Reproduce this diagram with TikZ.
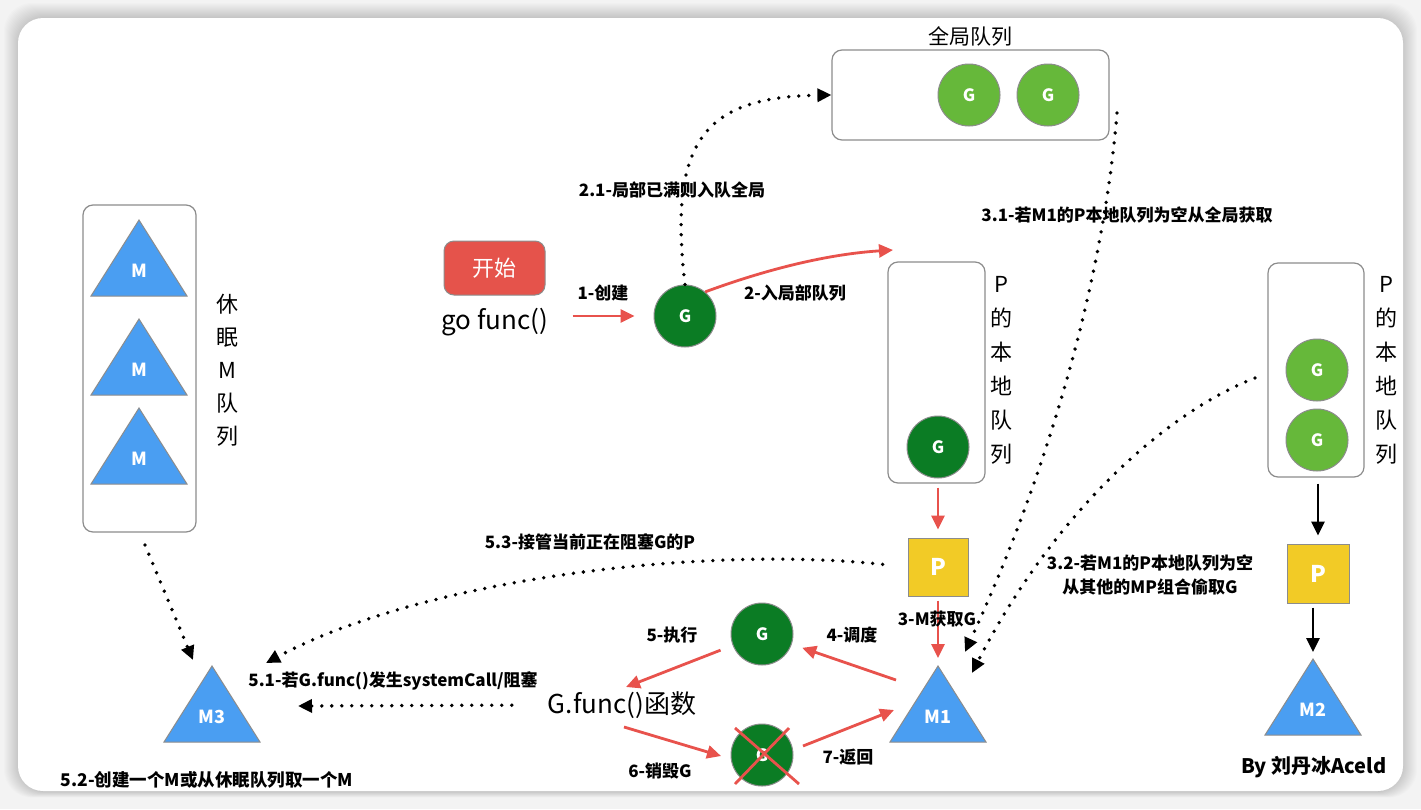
\documentclass[tikz,border=0pt]{standalone}
\usepackage{fontspec}
\setmainfont{Noto Sans CJK SC}
\usetikzlibrary{arrows.meta,shapes.geometric}
\definecolor{redc}{HTML}{E8524C}
\definecolor{startred}{HTML}{E5534B}
\definecolor{dgreen}{HTML}{0B7C24}
\definecolor{lgreen}{HTML}{66B83A}
\definecolor{pyellow}{HTML}{F2CB26}
\definecolor{mblue}{HTML}{4A9EF2}
\definecolor{bgray}{HTML}{8C8C8C}
\definecolor{pagebg}{HTML}{F3F3F3}
\newcommand\mtri[4]{%
  \draw[tri] ({#2-48},{#3+76}) -- (#2,#3) -- ({#2+48},{#3+76}) -- cycle;
  \node[tlab] (#1) at (#2,{#3+51}) {#4};
  \coordinate (#1-apex) at (#2,#3);
}
\begin{document}
\begin{tikzpicture}[x=1pt,y=-1pt,
  qbox/.style={draw=bgray,line width=1.2pt,rounded corners=10pt,fill=white,inner sep=0pt},
  gd/.style={circle,fill=dgreen,draw=bgray,line width=1pt,minimum size=62pt,inner sep=0pt,text=white,font=\bfseries\fontsize{17}{17}\selectfont},
  gl/.style={gd,fill=lgreen},
  pbox/.style={rectangle,fill=pyellow,draw=bgray,line width=1pt,minimum width=60pt,minimum height=58pt,text=white,font=\bfseries\fontsize{23}{23}\selectfont},
  tri/.style={fill=mblue,draw=bgray,line width=1pt},
  tlab/.style={text=white,font=\bfseries\fontsize{18}{18}\selectfont,inner sep=0pt},
  lbl/.style={font=\bfseries\fontsize{17}{17}\selectfont,inner sep=1pt},
  thin/.style={font=\fontsize{21}{21}\selectfont,inner sep=0pt},
  vtext/.style={font=\fontsize{22}{34}\selectfont,align=center,inner sep=0pt},
  hand/.style={font=\fontsize{26}{26}\selectfont,inner sep=0pt},
  redarrow/.style={draw=redc,line width=2.8pt,-{Triangle[length=14pt,width=13pt]}},
  blkarrow/.style={draw=black,line width=2.8pt,-{Triangle[length=14pt,width=13pt]}},
  dotarrow/.style={draw=black,line width=3.8pt,dash pattern=on 0pt off 10pt,line cap=round,-{Triangle[length=14pt,width=13pt]}}
]
\useasboundingbox (0,0) rectangle (1421,809);
% page and card
\fill[pagebg] (0,0) rectangle (1421,809);
\foreach \i in {0,...,14}{
  \fill[black,opacity=0.013,rounded corners=28pt] ({18-\i},{17-\i}) rectangle ({1403+\i},{792+0.4*\i});
}
\fill[white,rounded corners=25pt] (18,18) rectangle (1403,791);

% global queue
\node[thin] (tglobal) at (970,36) {全局队列};
\node[qbox,minimum width=277pt,minimum height=90pt] (gq) at (970.5,95) {};
\node[gl] (gq1) at (969,95) {G};
\node[gl] (gq2) at (1048,95) {G};

% start
\node[rectangle,rounded corners=10pt,fill=startred,draw=bgray,line width=1pt,minimum width=101pt,minimum height=54pt,text=white,font=\fontsize{22}{22}\selectfont] (start) at (494.5,268) {开始};
\node[hand] (gofunc) at (495,322) {go func()};
\node[gd] (g0) at (685,316) {G};

% local queue (M1's P)
\node[qbox,minimum width=97pt,minimum height=221pt] (lq) at (936.5,372.5) {};
\node[gd] (lqg) at (938,447) {G};
\node[vtext] (lqt) at (1001,370) {P\\的\\本\\地\\队\\列};
\node[pbox] (p1) at (938,567) {P};
\mtri{m1}{938}{666}{M1}

% right local queue
\node[qbox,minimum width=96pt,minimum height=214pt] (rq) at (1316,370) {};
\node[gl] (rqg1) at (1317,370) {G};
\node[gl] (rqg2) at (1317,440) {G};
\node[vtext] (rqt) at (1386,370) {P\\的\\本\\地\\队\\列};
\node[pbox,minimum width=62pt,minimum height=59pt] (p2) at (1318,573.5) {P};
\mtri{m2}{1313}{659}{M2}

% sleeping M queue
\node[qbox,minimum width=113pt,minimum height=327pt] (mq) at (139.5,368.5) {};
\mtri{ma}{139}{220}{M}
\mtri{mb}{139}{319}{M}
\mtri{mc}{139}{408}{M}
\node[vtext,font=\fontsize{22}{33}\selectfont] (mqt) at (227,370) {休\\眠\\M\\队\\列};
\mtri{m3}{212}{666}{M3}

% G.func and the two G's
\node[hand] (gfunc) at (622,705) {G.func()函数};
\node[gd] (gexec) at (762,634) {G};
\node[gd] (gdead) at (762,755) {G};
\draw[redc,line width=2.8pt] (gdead.center) ++(-27,-27) -- ++(64,56);
\draw[redc,line width=2.8pt] (gdead.center) ++(27,-27) -- ++(-54,56);

% coordinates of free ends
\coordinate (a2e) at (893,250);
\coordinate (a31s) at (1117,113);
\coordinate (a31e) at (965,652);
\coordinate (a32s) at (1255,378);
\coordinate (a32e) at (972,673);
\coordinate (a4s) at (896,680);
\coordinate (a5e) at (626,687);
\coordinate (a6s) at (624,727);
\coordinate (a6e) at (721,756);
\coordinate (a7s) at (803,746);
\coordinate (a7e) at (894,710);
\coordinate (a53e) at (266,663);
\coordinate (a51e) at (298,706);
\coordinate (amqs) at (145,545);
\coordinate (amqe) at (193,660);

% red arrows
\draw[redarrow,shorten <=24pt,shorten >=19pt] (gofunc.east |- g0.west) -- (g0.west);
\draw[redarrow] (g0.50) .. controls (770,268) and (830,254) .. (a2e);
\draw[redarrow,shorten <=4pt,shorten >=8pt] (lq.south -| p1.north) -- (p1.north);
\draw[redarrow,shorten <=4pt,shorten >=8pt] (p1.south) -- (m1-apex);
\draw[redarrow,shorten >=11pt] (a4s) -- (gexec);
\draw[redarrow,shorten <=13pt] (gexec) -- (a5e);
\draw[redarrow] (a6s) -- (a6e);
\draw[redarrow] (a7s) -- (a7e);

% black arrows (right)
\draw[blkarrow,shorten <=6pt,shorten >=8pt] (rq.south -| p2.north) -- (p2.north);
\draw[blkarrow,shorten <=4pt,shorten >=7pt] (p2.south -| m2-apex) -- (m2-apex);

% dotted arrows
\draw[dotarrow] (g0.north) .. controls (668,140) and (705,97) .. (gq.west);
\draw[dotarrow] (a31s) .. controls (1105,260) and (1058,450) .. (a31e);
\draw[dotarrow] (a32s) .. controls (1160,415) and (1050,520) .. (a32e);
\draw[dotarrow,shorten <=25pt] (p1.west) .. controls (700,545) and (420,580) .. (a53e);
\draw[dotarrow,shorten <=36pt] (gfunc.west) -- (a51e);
\draw[dotarrow] (amqs) -- (amqe);

% labels
\node[lbl] (l1) at (603,293) {1-创建};
\node[lbl] (l2) at (795,293) {2-入局部队列};
\node[lbl] (l21) at (672,190) {2.1-局部已满则入队全局};
\node[lbl] (l31) at (1127,215) {3.1-若M1的P本地队列为空从全局获取};
\node[lbl] (l3) at (937,619) {3-M获取G};
\node[lbl,align=center,font=\bfseries\fontsize{17}{24}\selectfont] (l32) at (1150,575) {3.2-若M1的P本地队列为空\\从其他的MP组合偷取G};
\node[lbl] (l4) at (852,635) {4-调度};
\node[lbl] (l5) at (672,635) {5-执行};
\node[lbl] (l53) at (590,542) {5.3-接管当前正在阻塞G的P};
\node[lbl] (l51) at (393,681) {5.1-若G.func()发生systemCall/阻塞};
\node[lbl,font=\bfseries\fontsize{17.5}{17.5}\selectfont] (l52) at (207,780) {5.2-创建一个M或从休眠队列取一个M};
\node[lbl] (l6) at (660,771) {6-销毁G};
\node[lbl] (l7) at (848,757) {7-返回};
\node[lbl,font=\bfseries\fontsize{20}{20}\selectfont] (by) at (1314,767) {By 刘丹冰Aceld};
\end{tikzpicture}
\end{document}
